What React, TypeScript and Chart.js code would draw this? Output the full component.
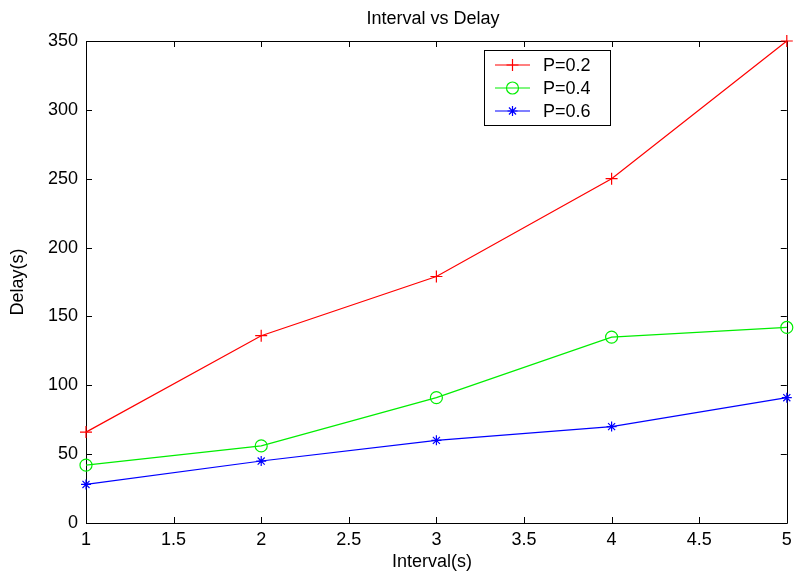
import React, { useEffect, useRef } from "react";
import { Chart, registerables } from "chart.js";

Chart.register(...registerables);

const intervals = [1, 2, 3, 4, 5];
const delayP02 = [66, 136, 179, 250, 350];
const delayP04 = [42, 56, 91, 135, 142];
const delayP06 = [28, 45, 60, 70, 91];
const seriesLabels = ["P=0.2", "P=0.4", "P=0.6"];
const seriesColors = ["#ff0000", "#00ee00", "#0000ff"];
const seriesMarkers = ["cross", "circle", "star"];
const xTicks = [1, 1.5, 2, 2.5, 3, 3.5, 4, 4.5, 5];
const yTicks = [0, 50, 100, 150, 200, 250, 300, 350];
const chartTitle = "Interval vs Delay";
const xTitle = "Interval(s)";
const yTitle = "Delay(s)";

const FONT = '"Liberation Sans", Arial, Helvetica, sans-serif';

function drawMarker(ctx: CanvasRenderingContext2D, style: string, x: number, y: number, r: number) {
  ctx.beginPath();
  if (style === "cross") {
    ctx.moveTo(x - r, y);
    ctx.lineTo(x + r, y);
    ctx.moveTo(x, y - r);
    ctx.lineTo(x, y + r);
  } else if (style === "circle") {
    ctx.arc(x, y, r, 0, Math.PI * 2);
  } else {
    ctx.moveTo(x - r, y);
    ctx.lineTo(x + r, y);
    ctx.moveTo(x, y - r);
    ctx.lineTo(x, y + r);
    const d = r * Math.SQRT1_2;
    ctx.moveTo(x - d, y - d);
    ctx.lineTo(x + d, y + d);
    ctx.moveTo(x - d, y + d);
    ctx.lineTo(x + d, y - d);
  }
  ctx.stroke();
}

const framePlugin = {
  id: "matlabFrame",
  beforeDatasetsDraw(chart: any) {
    const { ctx, chartArea, scales } = chart;
    const { left, right, top, bottom } = chartArea;
    ctx.save();
    ctx.strokeStyle = "#000";
    ctx.lineWidth = 1;
    ctx.beginPath();
    ctx.rect(Math.round(left) + 0.5, Math.round(top) + 0.5, Math.round(right - left), Math.round(bottom - top));
    ctx.stroke();
    const tl = 6;
    ctx.beginPath();
    for (const v of xTicks) {
      const px = Math.round(scales.x.getPixelForValue(v)) + 0.5;
      ctx.moveTo(px, bottom);
      ctx.lineTo(px, bottom - tl);
      ctx.moveTo(px, top);
      ctx.lineTo(px, top + tl);
    }
    for (const v of yTicks) {
      const py = Math.round(scales.y.getPixelForValue(v)) + 0.5;
      ctx.moveTo(left, py);
      ctx.lineTo(left + tl, py);
      ctx.moveTo(right, py);
      ctx.lineTo(right - tl, py);
    }
    ctx.stroke();

    // titles
    ctx.fillStyle = "#000";
    ctx.font = `18px ${FONT}`;
    ctx.textAlign = "center";
    ctx.textBaseline = "middle";
    ctx.fillText(chartTitle, 433, 19);
    ctx.fillText(xTitle, 432, 562);
    ctx.save();
    ctx.translate(18, 282);
    ctx.rotate(-Math.PI / 2);
    ctx.fillText(yTitle, 0, 0);
    ctx.restore();
    ctx.restore();
  },
  afterDatasetsDraw(chart: any) {
    const { ctx } = chart;
    ctx.save();
    const bx = 484, by = 50, bw = 126, bh = 75;
    ctx.fillStyle = "#fff";
    ctx.fillRect(bx, by, bw, bh);
    ctx.strokeStyle = "#000";
    ctx.lineWidth = 1;
    ctx.strokeRect(bx + 0.5, by + 0.5, bw, bh);
    const rows = [65, 88, 111];
    ctx.font = `18px ${FONT}`;
    ctx.textAlign = "left";
    ctx.textBaseline = "middle";
    seriesLabels.forEach((lab, i) => {
      const y = rows[i];
      ctx.strokeStyle = seriesColors[i];
      ctx.lineWidth = 1.2;
      ctx.beginPath();
      ctx.moveTo(495, y);
      ctx.lineTo(530, y);
      ctx.stroke();
      drawMarker(ctx, seriesMarkers[i], 512.5, y, seriesMarkers[i] === "star" ? 5 : 6);
      ctx.fillStyle = "#000";
      ctx.fillText(lab, 543, y + 1);
    });
    ctx.restore();
  },
};

export default function App() {
  const ref = useRef<HTMLCanvasElement>(null);
  useEffect(() => {
    if (!ref.current) return;
    const seriesData = [delayP02, delayP04, delayP06];
    const chart = new Chart(ref.current, {
      type: "line",
      data: {
        datasets: seriesData.map((vals, i) => ({
          label: seriesLabels[i],
          data: intervals.map((x, j) => ({ x, y: vals[j] })),
          borderColor: seriesColors[i],
          backgroundColor: "rgba(0,0,0,0)",
          borderWidth: 1.2,
          pointStyle: seriesMarkers[i] as any,
          pointRadius: seriesMarkers[i] === "star" ? 5 : 6,
          pointBorderColor: seriesColors[i],
          pointBackgroundColor: "rgba(0,0,0,0)",
          pointBorderWidth: 1.2,
          tension: 0,
          clip: false as any,
        })),
      },
      options: {
        responsive: false,
        animation: false,
        layout: { padding: { top: 41, right: 5, left: 0, bottom: 0 } },
        plugins: {
          legend: { display: false },
          title: { display: false },
          tooltip: { enabled: false },
        },
        scales: {
          x: {
            type: "linear",
            min: 1,
            max: 5,
            afterBuildTicks: (s: any) => {
              s.ticks = xTicks.map((v) => ({ value: v }));
            },
            afterFit: (s: any) => {
              s.height = 53;
              s.paddingLeft = 0;
              s.paddingRight = 0;
            },
            ticks: {
              color: "#000",
              font: { family: FONT, size: 18 },
              padding: 6,
              maxRotation: 0,
              autoSkip: false,
              callback: (v: any) => String(v),
            },
            grid: { display: false, drawTicks: false },
            border: { display: false },
          },
          y: {
            type: "linear",
            min: 0,
            max: 350,
            afterBuildTicks: (s: any) => {
              s.ticks = yTicks.map((v) => ({ value: v }));
            },
            afterFit: (s: any) => {
              s.width = 86;
              s.paddingTop = 0;
              s.paddingBottom = 0;
            },
            ticks: {
              color: "#000",
              font: { family: FONT, size: 18 },
              padding: 8,
              autoSkip: false,
              callback: (v: any) => String(v),
            },
            grid: { display: false, drawTicks: false },
            border: { display: false },
          },
        },
      },
      plugins: [framePlugin],
    });
    return () => chart.destroy();
  }, []);
  return (
    <div style={{ position: "absolute", left: 0, top: 0, width: 794, height: 576, background: "#fff" }}>
      <canvas ref={ref} width={794} height={576} />
    </div>
  );
}
